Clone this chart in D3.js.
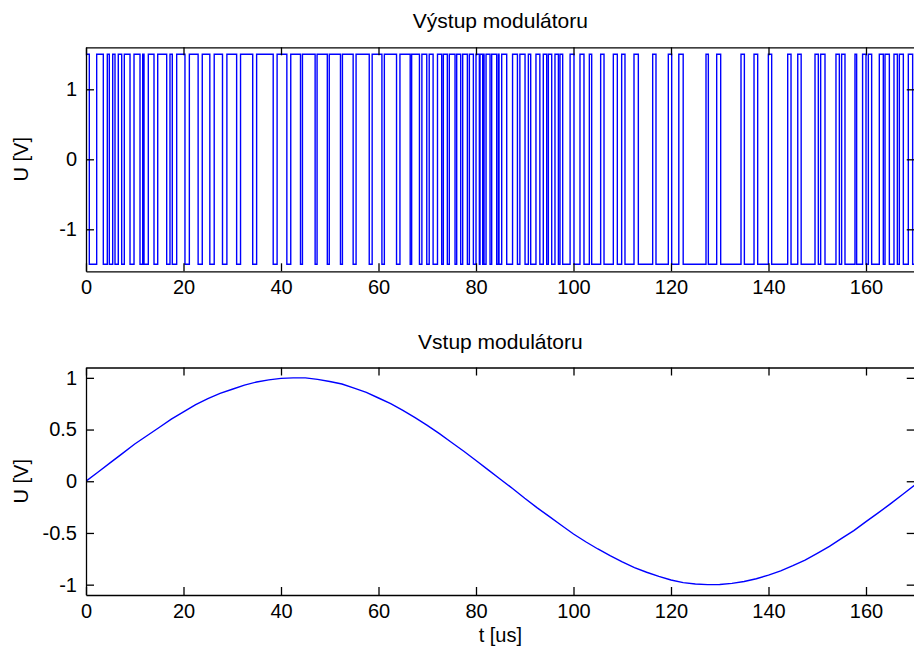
<!DOCTYPE html>
<html><head><meta charset="utf-8">
<script src="https://cdn.jsdelivr.net/npm/d3@7"></script>
<style>
html,body{margin:0;padding:0;background:#fff;}
svg{display:block;background:#fff;}
text{font-family:"Liberation Sans",Arial,Helvetica,sans-serif;fill:#000;}
</style></head><body><svg id="c" width="914" height="654"></svg>
<script>
// ---- data ----
const timeDomain = [0, 170];
const xTicks = [0, 20, 40, 60, 80, 100, 120, 140, 160];
const topYTicks = [-1, 0, 1];
const bottomYTicks = [-1, -0.5, 0, 0.5, 1];
const pwmHigh = 1.5;
const pwmLow = -1.5;
const pwmStartLevel = 1.5;
// times (us) at which the modulator output toggles
const pwmEdges = [
  0.68, 2.19, 3.55, 4.37, 4.78, 5.48, 5.95, 6.62, 7.32, 7.86, 9.03, 9.85,
  11.08, 11.63, 11.9, 12.78, 13.95, 14.71, 16.55, 17.23, 17.7, 18.6, 20.3, 21.2,
  23.0, 23.85, 25.4, 26.3, 28.0, 28.9, 30.9, 31.7, 34.2, 35.0, 38.4, 39.2,
  41.2, 42.0, 44.0, 44.4, 47.0, 47.4, 49.5, 49.9, 52.2, 52.6, 54.8, 55.4,
  58.1, 58.7, 60.7, 61.2, 63.7, 64.4, 66.5, 66.8, 68.4, 68.9, 69.9, 70.4,
  71.2, 72.1,
  72.96, 73.30, 74.12, 74.53, 75.70, 76.04, 76.86, 77.27, 78.23, 78.64, 79.46,
  80.0, 80.69, 80.83, 81.37, 81.51, 81.65, 82.06, 82.88, 83.22, 84.24, 84.59,
  84.72, 85.27, 86.3, 87.5, 88.5, 89.0, 90.06, 90.74, 91.22, 92.3, 93.1, 93.8,
  94.5, 94.84, 95.53, 96.2, 96.9,
  97.23, 97.78, 99.3, 100.1, 101.33, 102.15, 103.25, 103.73, 105.57, 106.26,
  108.17, 108.99, 109.88, 110.56, 112.41, 113.3, 116.24, 116.92, 119.45, 120.14,
  121.6, 122.5, 127.18, 127.66, 129.37, 130.19, 134.36, 135.05, 137.03, 137.78,
  139.97, 140.65, 143.94, 144.62, 146.0, 146.7, 149.54, 150.22, 150.7, 151.59,
  153.84, 154.53, 155.0, 155.69, 157.74, 158.08, 159.3, 160.0, 160.48, 161.16,
  162.73, 163.55, 163.9, 164.79, 165.74, 166.43, 166.84, 167.66, 168.68, 169.57
];
const sineT = [0,2.5,5,7.5,10,12.5,15,17.5,20,22.5,25,27.5,30,32.5,35,37.5,40,42.5,45,47.5,50,52.5,55,57.5,60,62.5,65,67.5,70,72.5,75,77.5,80,82.5,85,87.5,90,92.5,95,97.5,100,102.5,105,107.5,110,112.5,115,117.5,120,122.5,125,127.5,130,132.5,135,137.5,140,142.5,145,147.5,150,152.5,155,157.5,160,162.5,165,167.5,170];
const sineU = [0,0.09,0.18,0.27,0.36,0.44,0.52,0.6,0.67,0.74,0.8,0.85,0.89,0.93,0.96,0.98,0.995,1.0,1.0,0.985,0.965,0.94,0.9,0.86,0.805,0.75,0.685,0.615,0.54,0.46,0.375,0.29,0.2,0.11,0.02,-0.07,-0.165,-0.255,-0.34,-0.425,-0.51,-0.585,-0.655,-0.72,-0.78,-0.835,-0.88,-0.92,-0.955,-0.98,-0.993,-1.0,-0.998,-0.988,-0.97,-0.943,-0.908,-0.866,-0.816,-0.762,-0.697,-0.63,-0.553,-0.477,-0.391,-0.306,-0.219,-0.128,-0.037];
const titleTop = "Výstup modulátoru";
const titleBottom = "Vstup modulátoru";
const yLabelText = "U [V]";
const xLabelText = "t [us]";

// ---- layout ----
const svg = d3.select("#c");
const left = 86, right = 914.75;
const panels = [
  {top: 47.3, bottom: 271.3, yDomain: [-1.6, 1.6], yTicks: topYTicks, title: titleTop, xlabel: false},
  {top: 367.5, bottom: 595, yDomain: [-1.1, 1.1], yTicks: bottomYTicks, title: titleBottom, xlabel: true}
];
const x = d3.scaleLinear().domain(timeDomain).range([left, right]);
const fmt = d => String(d);
const FS = 20;

panels.forEach((p, i) => {
  const y = d3.scaleLinear().domain(p.yDomain).range([p.bottom, p.top]);
  const g = svg.append("g");
  const clipId = "clip" + i;
  svg.append("clipPath").attr("id", clipId).append("rect")
    .attr("x", left).attr("y", p.top).attr("width", right - left).attr("height", p.bottom - p.top);

  if (i === 0) {
    const pts = [[0, pwmStartLevel]];
    let lvl = pwmStartLevel;
    pwmEdges.forEach(t => { lvl = lvl === pwmHigh ? pwmLow : pwmHigh; pts.push([t, lvl]); });
    pts.push([timeDomain[1], lvl]);
    g.append("path").attr("clip-path", `url(#${clipId})`)
      .attr("d", d3.line().x(d => x(d[0])).y(d => y(d[1])).curve(d3.curveStepAfter)(pts))
      .attr("fill", "none").attr("stroke", "#0000ff").attr("stroke-width", 1.4);
  } else {
    const pts = sineT.map((t, k) => [t, sineU[k]]);
    g.append("path").attr("clip-path", `url(#${clipId})`)
      .attr("d", d3.line().x(d => x(d[0])).y(d => y(d[1]))(pts))
      .attr("fill", "none").attr("stroke", "#0000ff").attr("stroke-width", 1.4);
  }

  const styleAxis = sel => {
    sel.selectAll("path.domain").attr("stroke", "#000").attr("stroke-width", 1.3);
    sel.selectAll(".tick line").attr("stroke", "#000").attr("stroke-width", 1.3);
    sel.selectAll(".tick text").attr("font-size", FS).attr("font-family", '"Liberation Sans",Arial,sans-serif').attr("fill", "#000");
  };
  g.append("g").attr("transform", `translate(0,${p.bottom})`)
    .call(d3.axisBottom(x).tickValues(xTicks).tickFormat(fmt).tickSizeInner(-8).tickSizeOuter(0).tickPadding(9))
    .call(styleAxis);
  g.append("g").attr("transform", `translate(0,${p.top})`)
    .call(d3.axisTop(x).tickValues(xTicks).tickFormat("").tickSizeInner(-8).tickSizeOuter(0))
    .call(styleAxis);
  g.append("g").attr("transform", `translate(${left},0)`)
    .call(d3.axisLeft(y).tickValues(p.yTicks).tickFormat(fmt).tickSizeInner(-8).tickSizeOuter(0).tickPadding(9))
    .call(styleAxis);
  g.append("g").attr("transform", `translate(${right},0)`)
    .call(d3.axisRight(y).tickValues(p.yTicks).tickFormat("").tickSizeInner(-8).tickSizeOuter(0))
    .call(styleAxis);

  svg.append("text").attr("x", (left + right) / 2).attr("y", p.top - 19)
    .attr("text-anchor", "middle").attr("font-size", 21).text(p.title);
  svg.append("text").attr("transform", `translate(28,${(p.top + p.bottom) / 2}) rotate(-90)`)
    .attr("text-anchor", "middle").attr("font-size", FS).text(yLabelText);
  if (p.xlabel) {
    svg.append("text").attr("x", (left + right) / 2).attr("y", 642)
      .attr("text-anchor", "middle").attr("font-size", FS).text(xLabelText);
  }
});
</script></body></html>
